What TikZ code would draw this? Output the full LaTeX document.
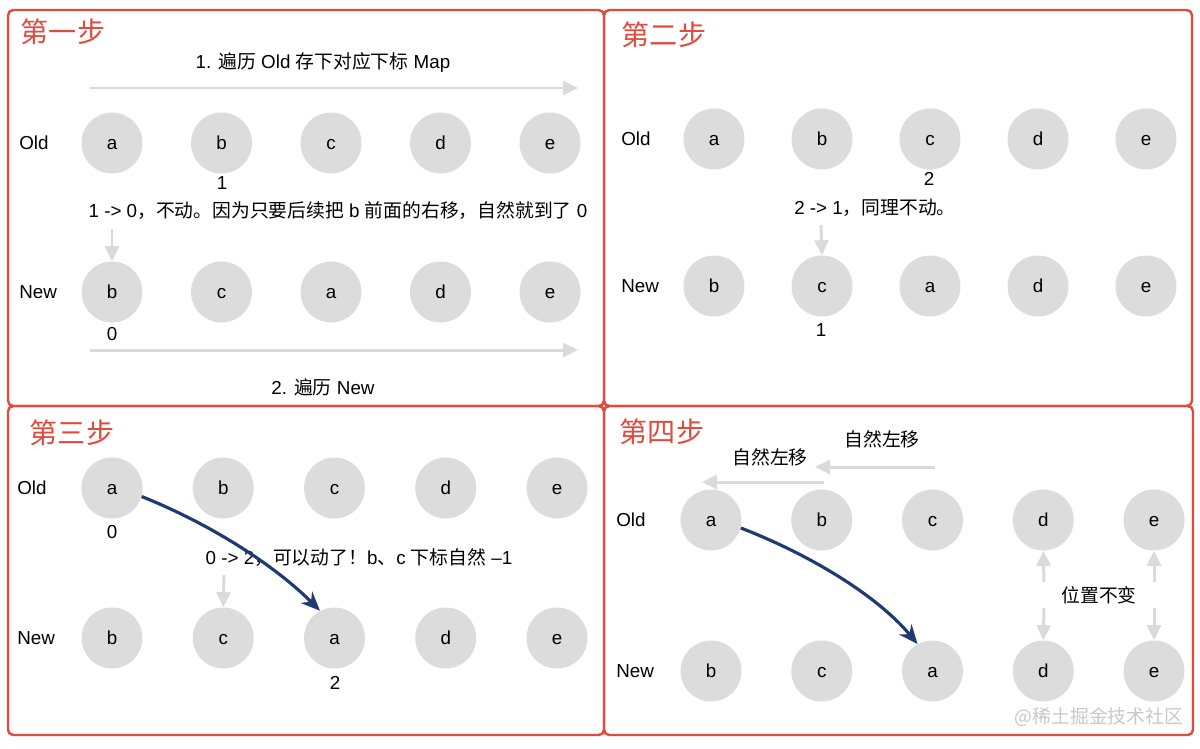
\documentclass[tikz,border=0pt]{standalone}
\usepackage{fontspec}
\setmainfont{Liberation Sans}
\newfontfamily\zh{Noto Sans CJK SC}
\usetikzlibrary{arrows.meta,positioning}
\definecolor{framered}{RGB}{224,75,62}
\definecolor{ballgray}{RGB}{220,220,220}
\definecolor{arrowgray}{RGB}{218,218,218}
\definecolor{movenavy}{RGB}{31,58,112}
\definecolor{markgray}{RGB}{200,200,200}

\begin{document}
\begin{tikzpicture}[x=0.02cm, y=-0.02cm,
    every node/.style={font=\fontsize{10.7}{13}\selectfont},
    ball/.style={circle, fill=ballgray, minimum size=1.22cm, inner sep=0pt, text height=7.6pt, text depth=0pt},
    panel/.style={draw=framered, line width=1.4pt, rounded corners=3pt},
    steptitle/.style={text=framered, font=\zh\fontsize{16}{19}\selectfont},
    rowlabel/.style={anchor=west, inner sep=0pt},
    garr/.style={-{Triangle[length=0.3cm, width=0.28cm]}, draw=arrowgray, line width=1.7pt},
    marr/.style={-{Stealth[length=0.38cm, width=0.32cm]}, draw=movenavy, line width=1.8pt}
]
\useasboundingbox (0,0) rectangle (1200,748);

\draw[panel] (8,10) rectangle (604,406);
\draw[panel] (604,10) rectangle (1192,406);
\draw[panel] (8,406) rectangle (604,735);
\draw[panel] (604,406) rectangle (1193,735);

\node[steptitle] (t1) at (63,32) {第一步};
\node[steptitle] (t2) at (664,35) {第二步};
\node[steptitle] (t3) at (72,433) {第三步};
\node[steptitle] (t4) at (662,432) {第四步};

\foreach \l [count=\i from 0] in {a,b,c,d,e}
    \node[ball] (p1o\l) at ({112+109.5*\i},143) {\l};
\foreach \l [count=\i from 0] in {b,c,a,d,e}
    \node[ball] (p1n\l) at ({112+109.5*\i},292) {\l};
\node[rowlabel] (p1old) at (19,143) {Old};
\node[rowlabel] (p1new) at (19,292) {New};
\node (p1t) at (323,62) {1. {\zh 遍历} Old {\zh 存下对应下标} Map};
\coordinate (p1s) at (90,88);
\coordinate (p1e) at (578,88);
\draw[garr] (p1s) -- (p1e);
\node (p1i) at (222,183) {1};
\node (p1m) at (338,211) {1 -> 0{\zh ，不动。因为只要后续把} b {\zh 前面的右移，自然就到了} 0};
\coordinate (p1d) at (112,229);
\draw[garr] (p1d) -- (p1nb.north);
\node (p1j) at (112,334) {0};
\coordinate (p1s2) at (90,350);
\coordinate (p1e2) at (578,350);
\draw[garr] (p1s2) -- (p1e2);
\node (p1b) at (323,387) {2. {\zh 遍历} New};

\foreach \l [count=\i from 0] in {a,b,c,d,e}
    \node[ball] (p2o\l) at ({714+108*\i},139) {\l};
\foreach \l [count=\i from 0] in {b,c,a,d,e}
    \node[ball] (p2n\l) at ({714+108*\i},286) {\l};
\node[rowlabel] (p2old) at (621,139) {Old};
\node[rowlabel] (p2new) at (621,286) {New};
\node (p2i) at (929,179) {2};
\node (p2m) at (875,208) {2 -> 1{\zh ，同理不动。}};
\coordinate (p2d) at (821,225);
\draw[garr] (p2d) -- (p2nc.north);
\node (p2j) at (821,330) {1};

\foreach \l [count=\i from 0] in {a,b,c,d,e}
    \node[ball] (p3o\l) at ({112+111.25*\i},488) {\l};
\foreach \l [count=\i from 0] in {b,c,a,d,e}
    \node[ball] (p3n\l) at ({112+111.25*\i},638) {\l};
\node[rowlabel] (p3old) at (17,488) {Old};
\node[rowlabel] (p3new) at (17,638) {New};
\node (p3i) at (112,532) {0};
\node (p3m) at (359,558) {0 -> 2{\zh ，可以动了！}b{\zh 、}c {\zh 下标自然} –1};
\coordinate (p3d) at (224,575);
\draw[garr] (p3d) -- (p3nc.north);
\node (p3j) at (335,683) {2};
\draw[marr] (p3oa.-16) .. controls +(70,28) and +(-45,-45) .. (p3na.118);

\foreach \l [count=\i from 0] in {a,b,c,d,e}
    \node[ball] (p4o\l) at ({711+110.75*\i},520) {\l};
\foreach \l [count=\i from 0] in {b,c,a,d,e}
    \node[ball] (p4n\l) at ({711+110.75*\i},671) {\l};
\node[rowlabel] (p4old) at (616,520) {Old};
\node[rowlabel] (p4new) at (616,671) {New};
\node (p4u) at (882,439) {\zh 自然左移};
\coordinate (p4us) at (935,467);
\coordinate (p4ue) at (815,467);
\draw[garr] (p4us) -- (p4ue);
\node (p4l) at (770,457) {\zh 自然左移};
\coordinate (p4ls) at (824,482);
\coordinate (p4le) at (702,482);
\draw[garr] (p4ls) -- (p4le);
\draw[marr] (p4oa.-15) .. controls +(70,27) and +(-40,-48) .. (p4na.119);
\coordinate (p4d1) at (1044,582);
\coordinate (p4d2) at (1044,608);
\draw[garr] (p4d1) -- (p4od.south);
\draw[garr] (p4d2) -- (p4nd.north);
\coordinate (p4e1) at (1154,582);
\coordinate (p4e2) at (1154,608);
\draw[garr] (p4e1) -- (p4oe.south);
\draw[garr] (p4e2) -- (p4ne.north);
\node (p4k) at (1099,595) {\zh 位置不变};
\node[text=markgray] (mark) at (1099,717) {\zh @稀土掘金技术社区};
\end{tikzpicture}
\end{document}
